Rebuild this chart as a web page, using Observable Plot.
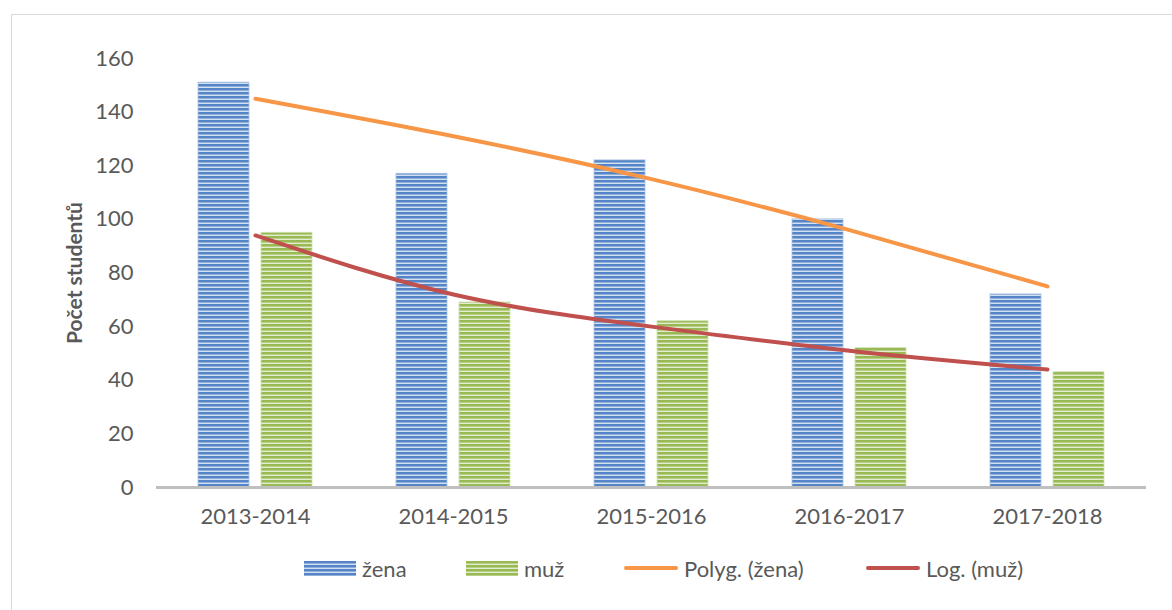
<!DOCTYPE html>
<html>
<head>
<meta charset="utf-8">
<script src="https://cdn.jsdelivr.net/npm/d3@7"></script>
<script src="https://cdn.jsdelivr.net/npm/@observablehq/plot@0.6"></script>
<style>
  html, body { margin: 0; padding: 0; background: #fff; overflow: hidden; }
  #wrap { position: relative; width: 1172px; height: 610px; font-family: Lato, "Open Sans", sans-serif; color: #595959; }
  #frame { position: absolute; left: 11px; top: 14px; width: 1200px; height: 640px; border: 1.5px solid #d9d9d9; box-sizing: border-box; }
  #chart { position: absolute; left: 0; top: 0; }
  #legend { position: absolute; left: 0; top: 554px; width: 1172px; height: 30px; font-size: 22px; }
  .item { position: absolute; top: 0; height: 28px; display: flex; align-items: center; }
  .sw { width: 52px; height: 15px; margin-right: 6px; }
  .ln { width: 54px; height: 4px; margin-right: 6px; border-radius: 2px; }
</style>
</head>
<body>
<div id="wrap">
  <div id="frame"></div>
  <div id="chart"></div>
  <div id="legend"></div>
</div>
<script>
const years = ["2013-2014", "2014-2015", "2015-2016", "2016-2017", "2017-2018"];
const zena = [151, 117, 122, 100, 72];
const muz = [95, 69, 62, 52, 43];
const polyZena = [145, 131, 115, 96, 75];
const logMuz = [94, 72, 60, 51, 44];
const yTicks = [0, 20, 40, 60, 80, 100, 120, 140, 160];
const seriesNames = ["žena", "muž", "Polyg. (žena)", "Log. (muž)"];

const zenaData = years.map((y, i) => ({year: y, value: zena[i]}));
const muzData = years.map((y, i) => ({year: y, value: muz[i]}));
const polyData = years.map((y, i) => ({year: y, value: polyZena[i]}));
const logData = years.map((y, i) => ({year: y, value: logMuz[i]}));

const chart = Plot.plot({
  width: 1172,
  height: 545,
  marginLeft: 156,
  marginRight: 26,
  marginTop: 58,
  marginBottom: 58,
  style: {fontFamily: "Lato, 'Open Sans', sans-serif", fontSize: "22px", color: "#595959", background: "transparent"},
  x: {domain: years, padding: 0, label: null},
  y: {domain: [0, 160], label: null},
  marks: [
    Plot.axisY({ticks: yTicks, tickSize: 0, tickPadding: 23, label: null, fontSize: 22}),
    Plot.axisX({tickSize: 0, tickPadding: 21, label: null, fontSize: 22}),
    Plot.barY(zenaData, {x: "year", y: "value", dx: -31.5, insetLeft: 73.5, insetRight: 73.5, fill: "url(#pz)", stroke: "#a9c2e4", strokeWidth: 0.8}),
    Plot.barY(muzData, {x: "year", y: "value", dx: 31.5, insetLeft: 73.5, insetRight: 73.5, fill: "url(#pm)", stroke: "#cfe0b0", strokeWidth: 0.8}),
    Plot.ruleY([0], {stroke: "#bfbfbf", strokeWidth: 3}),
    Plot.line(polyData, {x: "year", y: "value", curve: "natural", stroke: "#f79646", strokeWidth: 4, strokeLinecap: "round"}),
    Plot.line(logData, {x: "year", y: "value", curve: "natural", stroke: "#c0504d", strokeWidth: 4, strokeLinecap: "round"}),
    Plot.text(["Počet studentů"], {frameAnchor: "left", textAnchor: "middle", rotate: -90, dx: -81, fontWeight: "bold", fontSize: 21, fill: "#595959"})
  ]
});

const defs = d3.select(chart).insert("defs", ":first-child");
function stripes(id, dark, mid, light) {
  const p = defs.append("pattern").attr("id", id).attr("patternUnits", "userSpaceOnUse").attr("width", 8).attr("height", 4);
  p.append("rect").attr("width", 8).attr("height", 4).attr("fill", mid);
  p.append("rect").attr("y", 0).attr("width", 8).attr("height", 2).attr("fill", dark);
  p.append("rect").attr("y", 3).attr("width", 8).attr("height", 1).attr("fill", light);
}
stripes("pz", "#5585c6", "#8fb0dc", "#d3e0f2");
stripes("pm", "#98b954", "#b8cf86", "#e2ecd0");

document.getElementById("chart").appendChild(chart);

const legend = document.getElementById("legend");
const items = [
  {name: seriesNames[0], left: 304, kind: "sw", bg: "repeating-linear-gradient(#5585c6 0 2px, #8fb0dc 2px 3px, #d3e0f2 3px 4px)"},
  {name: seriesNames[1], left: 466, kind: "sw", bg: "repeating-linear-gradient(#98b954 0 2px, #b8cf86 2px 3px, #e2ecd0 3px 4px)"},
  {name: seriesNames[2], left: 624, kind: "ln", bg: "#f79646"},
  {name: seriesNames[3], left: 866, kind: "ln", bg: "#c0504d"}
];
for (const it of items) {
  const d = document.createElement("div");
  d.className = "item";
  d.style.left = it.left + "px";
  const s = document.createElement("div");
  s.className = it.kind;
  s.style.background = it.bg;
  const t = document.createElement("span");
  t.textContent = it.name;
  d.appendChild(s);
  d.appendChild(t);
  legend.appendChild(d);
}
</script>
</body>
</html>
